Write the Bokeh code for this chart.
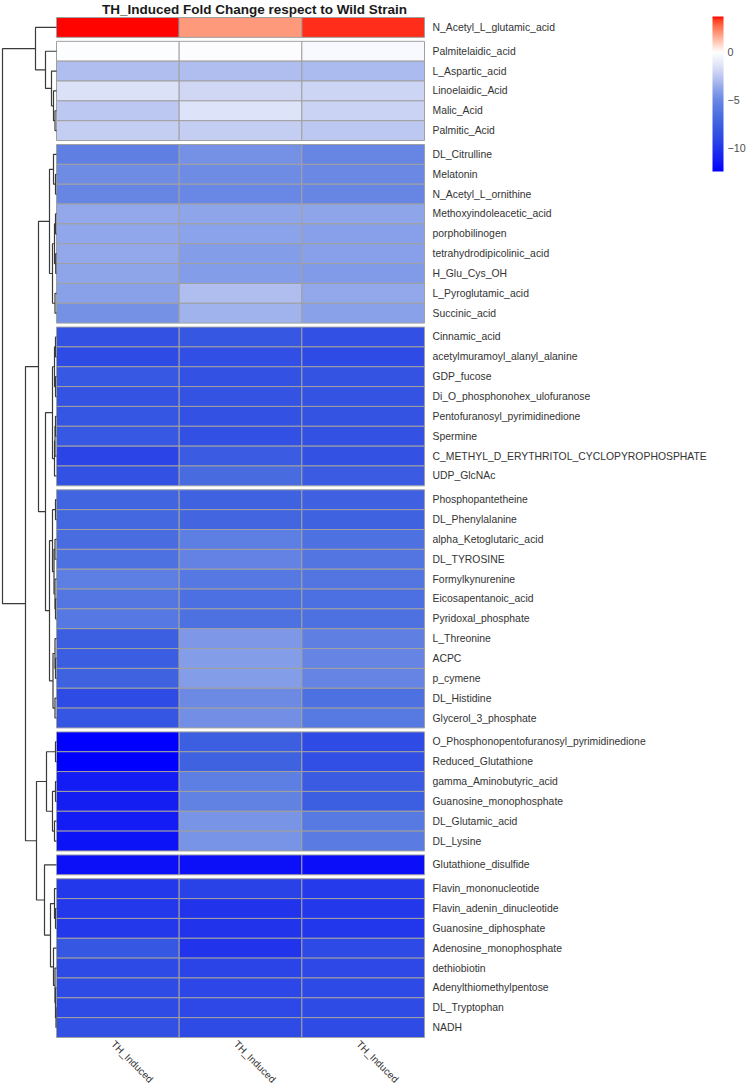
import math
import numpy as np
from bokeh.plotting import figure
from bokeh.models import ColumnDataSource, LinearColorMapper, ColorBar, FixedTicker, Range1d
from bokeh.core.properties import value
from bokeh.transform import transform
from bokeh.embed import file_html
from bokeh.resources import INLINE

# ---------------------------------------------------------------- data
metabolites = [
    "N_Acetyl_L_glutamic_acid", "Palmitelaidic_acid", "L_Aspartic_acid", "Linoelaidic_Acid",
    "Malic_Acid", "Palmitic_Acid",
    "DL_Citrulline", "Melatonin", "N_Acetyl_L_ornithine", "Methoxyindoleacetic_acid",
    "porphobilinogen", "tetrahydrodipicolinic_acid", "H_Glu_Cys_OH", "L_Pyroglutamic_acid",
    "Succinic_acid",
    "Cinnamic_acid", "acetylmuramoyl_alanyl_alanine", "GDP_fucose", "Di_O_phosphonohex_ulofuranose",
    "Pentofuranosyl_pyrimidinedione", "Spermine", "C_METHYL_D_ERYTHRITOL_CYCLOPYROPHOSPHATE",
    "UDP_GlcNAc",
    "Phosphopantetheine", "DL_Phenylalanine", "alpha_Ketoglutaric_acid", "DL_TYROSINE",
    "Formylkynurenine", "Eicosapentanoic_acid", "Pyridoxal_phosphate", "L_Threonine", "ACPC",
    "p_cymene", "DL_Histidine", "Glycerol_3_phosphate",
    "O_Phosphonopentofuranosyl_pyrimidinedione", "Reduced_Glutathione", "gamma_Aminobutyric_acid",
    "Guanosine_monophosphate", "DL_Glutamic_acid", "DL_Lysine",
    "Glutathione_disulfide",
    "Flavin_mononucleotide", "Flavin_adenin_dinucleotide", "Guanosine_diphosphate",
    "Adenosine_monophosphate", "dethiobiotin", "Adenylthiomethylpentose", "DL_Tryptophan", "NADH",
]

# log2 fold change of each induced replicate against the wild strain
induced_rep1 = [
    3.72, -0.10, -2.9, -1.5, -2.5, -2.3,
    -5.5, -4.8, -5.1, -3.7, -3.75, -3.7, -3.8, -3.95, -4.6,
    -8.4, -8.8, -8.0, -8.3, -8.2, -8.0, -9.2, -8.4,
    -7.2, -7.0, -6.7, -6.4, -5.6, -6.1, -6.0, -7.6, -7.7, -7.4, -8.8, -8.2,
    -12.42, -12.4, -11.2, -11.1, -11.2, -11.6,
    -11.7,
    -9.8, -9.8, -9.8, -8.1, -8.9, -8.8, -8.8, -8.5,
]
induced_rep2 = [
    1.95, -0.15, -2.9, -1.9, -1.4, -2.3,
    -4.6, -4.8, -5.0, -3.8, -3.9, -4.1, -4.1, -2.9, -3.3,
    -8.1, -8.6, -8.4, -8.3, -8.4, -8.5, -7.8, -6.8,
    -7.4, -7.1, -5.6, -5.3, -6.0, -6.5, -6.4, -4.3, -4.1, -4.1, -4.9, -4.7,
    -7.6, -7.4, -5.6, -5.4, -4.5, -4.5,
    -11.7,
    -9.3, -10.0, -10.0, -10.0, -9.2, -9.1, -9.0, -8.8,
]
induced_rep3 = [
    3.45, -0.3, -3.0, -2.0, -2.1, -2.5,
    -5.1, -4.95, -5.1, -3.8, -4.0, -4.0, -4.2, -3.7, -3.95,
    -8.5, -8.8, -8.3, -8.3, -8.3, -8.4, -8.4, -7.8,
    -7.5, -7.4, -6.4, -6.2, -6.2, -6.5, -6.4, -5.5, -5.2, -5.2, -6.4, -5.9,
    -8.8, -8.6, -7.8, -7.6, -5.9, -5.8,
    -11.8,
    -9.7, -9.8, -9.9, -8.9, -9.0, -8.9, -8.8, -8.8,
]
sample_labels = ["TH_Induced", "TH_Induced", "TH_Induced"]
title_text = "TH_Induced Fold Change respect to Wild Strain"

# row slices produced by cutting the tree into 8 groups
cluster_sizes = [1, 5, 9, 8, 12, 6, 1, 8]

# hclust-style merge table: negative = leaf (1-based row), positive = earlier merge
merge_a = [-5, -4, -3, -2, -1, -8, -7, -10, -12, 8, -14, 10, 7, -16, -18, 14, -20, 17, 18, 16,
           -24, -26, -29, -28, 22, 21, -32, -31, -34, 28, 26, 20, 13, -36, -38, -40, 35, 34,
           -44, -43, -49, -48, -47, -46, 40, -42, 38, 33, 5]
merge_b = [-6, 1, 2, 3, 4, -9, 6, -11, -13, 9, -15, 11, 12, -17, -19, 15, -21, -22, -23, 19,
           -25, -27, -30, 23, 24, 25, -33, 27, -35, 29, 30, 31, 32, -37, -39, -41, 36, 37,
           -45, 39, -50, 41, 42, 43, 44, 45, 46, 47, 48]
merge_height = [0.75, 1.5, 2.5, 5.5, 10.5, 0.5, 1.5, 0.5, 0.4, 1.0, 0.75, 2.0, 3.5, 0.5, 0.5,
                1.0, 0.5, 0.75, 1.0, 2.0, 0.5, 0.75, 0.5, 0.75, 1.25, 2.0, 0.5, 0.75, 0.75,
                1.75, 3.5, 5.5, 9.0, 0.5, 0.5, 1.0, 2.0, 5.0, 0.5, 1.0, 0.25, 0.5, 0.75, 1.5,
                3.0, 6.0, 10.0, 15.5, 27.0]

# ---------------------------------------------------------------- colour scale
scale_stops = [-12.42, -11.0, -10.0, -9.0, -8.0, -7.0, -6.0, -5.0, -4.0, -3.0, -2.0, -1.0,
               0.0, 0.93, 1.86, 2.79, 3.35, 3.72]
scale_rgb = [(0, 0, 255), (22, 33, 242), (33, 52, 236), (45, 72, 230), (55, 88, 226),
             (68, 104, 224), (85, 120, 226), (105, 135, 228), (135, 160, 233), (172, 187, 239),
             (205, 213, 244), (232, 236, 250), (255, 255, 255), (255, 207, 191),
             (255, 158, 129), (255, 104, 70), (255, 62, 34), (255, 0, 0)]

all_vals = induced_rep1 + induced_rep2 + induced_rep3
v_low, v_high = min(all_vals), max(all_vals)
n_pal = 512
samples = v_low + (np.arange(n_pal) + 0.5) * (v_high - v_low) / n_pal
rgb = np.array(scale_rgb, dtype=float)
palette = []
for s in samples:
    r, g, b = (int(round(np.interp(s, scale_stops, rgb[:, k]))) for k in range(3))
    palette.append("#%02x%02x%02x" % (r, g, b))
mapper = LinearColorMapper(palette=palette, low=v_low, high=v_high)

# ---------------------------------------------------------------- geometry
CANVAS_W, CANVAS_H = 746, 1087
HM_X0, HM_X1 = 56, 424          # heatmap body, px
HM_Y0, HM_Y1 = 17, 1037
TREE_ROOT_X = 2

ROW_U, GAP_U = 10.0, 2.0
n_rows = len(metabolites)
n_cols = len(sample_labels)
cluster_of_row = np.repeat(np.arange(len(cluster_sizes)), cluster_sizes)
row_top = np.arange(n_rows) * ROW_U + cluster_of_row * GAP_U
row_mid = row_top + ROW_U / 2
total_u = n_rows * ROW_U + (len(cluster_sizes) - 1) * GAP_U

cell_px = (HM_X1 - HM_X0) / n_cols
ppu = (HM_Y1 - HM_Y0) / total_u
tree_px = (HM_X0 - TREE_ROOT_X) / max(merge_height)

p = figure(
    width=CANVAS_W, height=CANVAS_H,
    x_range=Range1d(-HM_X0 / cell_px, (CANVAS_W - HM_X0) / cell_px),
    y_range=Range1d(total_u + (CANVAS_H - HM_Y1) / ppu, -HM_Y0 / ppu),
    x_axis_location=None, y_axis_location=None,
    toolbar_location=None, output_backend="svg", min_border=0,
)
p.extra_x_ranges = {"tree": Range1d(HM_X0 / tree_px, HM_X0 / tree_px - CANVAS_W / tree_px)}
p.outline_line_color = None
p.xgrid.grid_line_color = None
p.ygrid.grid_line_color = None
p.background_fill_color = "white"
p.border_fill_color = "white"

FONT_NAME = "Liberation Sans"
FONT = value(FONT_NAME)

# heatmap cells
cells = dict(left=[], right=[], top=[], bottom=[], val=[])
for j, column in enumerate([induced_rep1, induced_rep2, induced_rep3]):
    for i, v in enumerate(column):
        cells["left"].append(j)
        cells["right"].append(j + 1)
        cells["top"].append(row_top[i])
        cells["bottom"].append(row_top[i] + ROW_U)
        cells["val"].append(v)
p.quad(left="left", right="right", top="top", bottom="bottom",
       source=ColumnDataSource(cells),
       fill_color=transform("val", mapper), line_color="#a0a0a0", line_width=1)

# row dendrogram
node_y, node_h = {}, {}


def node(k):
    if k < 0:
        return row_mid[-k - 1], 0.0
    return node_y[k], node_h[k]


tree_xs, tree_ys = [], []
for m, (a, b, h) in enumerate(zip(merge_a, merge_b, merge_height), start=1):
    ya, ha = node(a)
    yb, hb = node(b)
    tree_xs.append([ha, h, h, hb])
    tree_ys.append([ya, ya, yb, yb])
    node_y[m] = (ya + yb) / 2
    node_h[m] = h
p.multi_line(tree_xs, tree_ys, x_range_name="tree", line_color="#3a3a3a", line_width=1.2)

# row names
p.text(x=[n_cols] * n_rows, y=list(row_mid), text=metabolites, x_offset=8,
       text_align="left", text_baseline="middle", text_font=FONT,
       text_font_size="10.4px", text_color="#333333")

# column names
p.text(x=[j + 0.5 for j in range(n_cols)], y=[total_u] * n_cols, text=sample_labels,
       angle=-math.pi / 4, x_offset=-1, y_offset=1,
       text_align="left", text_baseline="top", text_font=FONT,
       text_font_size="10px", text_color="#333333")

# title
title_cx_px, title_cy_px = 254, 9
p.text(x=[(title_cx_px - HM_X0) / cell_px], y=[(title_cy_px - HM_Y0) / ppu], text=[title_text],
       text_align="center", text_baseline="middle", text_font=FONT,
       text_font_size="13.5px", text_font_style="bold", text_color="#1a1a1a")

# colour key
cbar = ColorBar(
    color_mapper=mapper, location=(712, CANVAS_H - 171), width=11, height=155, padding=0,
    ticker=FixedTicker(ticks=[-10, -5, 0]),
    major_label_overrides={-10: "\u221210", -5: "\u22125", 0: "0"},
    label_standoff=4, major_tick_line_color=None, minor_tick_line_color=None,
    bar_line_color=None, border_line_color=None, background_fill_alpha=0,
    major_label_text_font=FONT_NAME, major_label_text_font_size="10.7px",
    major_label_text_color="#4d4d4d",
)
p.add_layout(cbar)

open("out.html", "w").write(file_html(p, INLINE))
